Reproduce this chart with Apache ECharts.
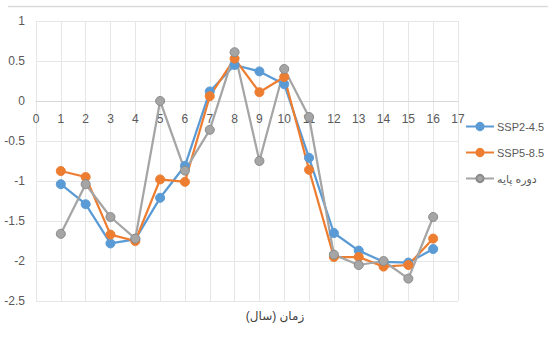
<!DOCTYPE html>
<html>
<head>
<meta charset="utf-8">
<script src="https://cdn.jsdelivr.net/npm/echarts@6/dist/echarts.min.js"></script>
<style>
  html, body { margin: 0; padding: 0; background: #fff; }
  #chart { width: 548px; height: 354px; }
</style>
</head>
<body>
<div id="chart"></div>
<script>
// Years along the horizontal axis
const years = [1, 2, 3, 4, 5, 6, 7, 8, 9, 10, 11, 12, 13, 14, 15, 16];

// Scenario series
const ssp245 = [-1.04, -1.29, -1.78, -1.73, -1.21, -0.81, 0.12, 0.45, 0.37, 0.21, -0.71, -1.65, -1.87, -2.01, -2.02, -1.85];
const ssp585 = [-0.875, -0.95, -1.67, -1.75, -0.98, -1.01, 0.06, 0.53, 0.11, 0.30, -0.86, -1.95, -1.95, -2.07, -2.05, -1.72];
const baseline = [-1.66, -1.04, -1.45, -1.72, 0.0, -0.87, -0.36, 0.61, -0.75, 0.40, -0.20, -1.92, -2.05, -2.00, -2.22, -1.45];

const seriesNames = ['SSP2-4.5', 'SSP5-8.5', 'دوره پایه'];
const xTitle = 'زمان (سال)';

const pairs = arr => years.map((y, i) => [y, arr[i]]);

// SVG output lets the browser shape the Persian text
const chart = echarts.init(document.getElementById('chart'), null, { renderer: 'svg' });

const fontFamily = "'Liberation Sans', 'DejaVu Sans', sans-serif";

function lineSeries(name, data, color, borderColor) {
  return {
    name: name,
    type: 'line',
    data: pairs(data),
    symbol: 'circle',
    symbolSize: 9,
    lineStyle: { color: color, width: 2.25 },
    itemStyle: { color: color, borderColor: borderColor, borderWidth: 1 },
    emphasis: { disabled: true },
    animation: false
  };
}

const gridTop = 21, gridBottom = 53, plotHeight = 354 - gridTop - gridBottom;
const yMin = -2.5, yMax = 1;
// distance from the bottom of the plot up to the zero line
const zeroOffset = plotHeight * (0 - yMin) / (yMax - yMin);

chart.setOption({
  animation: false,
  grid: { left: 36, right: 90, top: gridTop, bottom: gridBottom, containLabel: false },
  legend: {
    orient: 'vertical',
    left: 465,
    top: 121,
    padding: 0,
    itemWidth: 28,
    itemHeight: 9,
    itemGap: 15,
    data: seriesNames,
    textStyle: { color: '#595959', fontSize: 11, fontFamily: fontFamily, overflow: 'none', padding: [0, 0, 0, -2] }
  },
  xAxis: {
    type: 'value',
    min: 0,
    max: 17,
    interval: 1,
    position: 'bottom',
    offset: -zeroOffset,
    axisLine: { onZero: false, lineStyle: { color: '#d9d9d9', width: 1 } },
    axisTick: { show: false },
    axisLabel: { color: '#595959', fontSize: 12, margin: 12, fontFamily: fontFamily },
    splitLine: { show: true, lineStyle: { color: '#e6e6e6', width: 1 } }
  },
  yAxis: {
    type: 'value',
    min: yMin,
    max: yMax,
    interval: 0.5,
    axisLine: { show: false },
    axisTick: { show: false },
    axisLabel: { color: '#595959', fontSize: 12, margin: 11, fontFamily: fontFamily },
    splitLine: { show: true, lineStyle: { color: '#e6e6e6', width: 1 } }
  },
  graphic: [
    {
      type: 'line',
      shape: { x1: 8, y1: 6.5, x2: 548, y2: 6.5 },
      style: { stroke: '#d9d9d9', lineWidth: 1.5 },
      silent: true
    },
    {
      type: 'text',
      x: 275,
      y: 310,
      style: {
        text: xTitle,
        fill: '#404040',
        fontSize: 12,
        fontFamily: fontFamily,
        align: 'center'
      },
      silent: true
    }
  ],
  series: [
    lineSeries(seriesNames[0], ssp245, '#5B9BD5', '#5B9BD5'),
    lineSeries(seriesNames[1], ssp585, '#ED7D31', '#ED7D31'),
    lineSeries(seriesNames[2], baseline, '#A5A5A5', '#8a8a8a')
  ]
});
</script>
</body>
</html>
